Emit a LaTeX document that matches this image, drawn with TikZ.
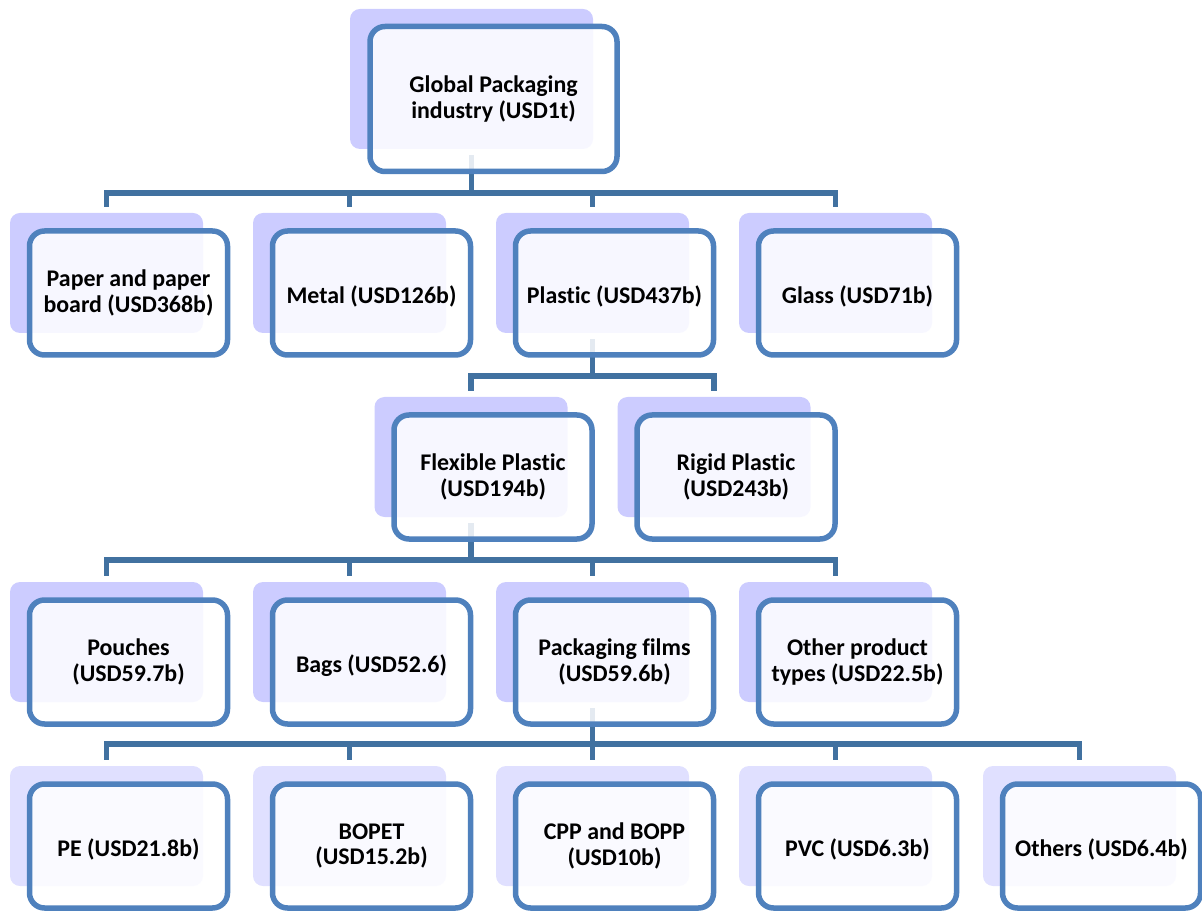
\documentclass[tikz,border=0pt]{standalone}
\usepackage{fontspec}
\setmainfont[Ligatures=NoCommon]{Carlito}
\usetikzlibrary{positioning}
\usetikzlibrary{calc}
\definecolor{lav}{RGB}{204,204,255}
\definecolor{lavlight}{RGB}{224,224,255}
\definecolor{boxblue}{RGB}{79,129,189}
\definecolor{linkblue}{RGB}{65,113,160}

\tikzset{
  back/.style={draw=none, fill=lav, rounded corners=0.2cm, inner sep=0pt,
    minimum width=193*0.02cm, minimum height=120*0.02cm},
  front/.style={draw=boxblue, line width=5.5*0.02cm, fill=white,
    fill opacity=0.86, text opacity=1, rounded corners=0.3cm, inner sep=0pt,
    minimum width=198*0.02cm, minimum height=124*0.02cm, align=center,
    font=\bfseries\fontsize{13.6}{14.4}\selectfont,
    execute at begin node={\rule{0pt}{14.5pt}}},
  link/.style={draw=linkblue, line width=5.5*0.02cm}
}

\begin{document}
\begin{tikzpicture}[x=0.02cm, y=-0.02cm]

%---------------------------------------
% Canvas (pixel grid)
%---------------------------------------
\useasboundingbox (0,0) rectangle (1202,911);

\def\dx{22}   % front box shift right
\def\dy{20}   % front box shift down

% Bus levels
\coordinate (busA) at (0,193);
\coordinate (busB) at (0,376);
\coordinate (busC) at (0,560);
\coordinate (busD) at (0,744);

%====================================================
% Shadow boxes
%====================================================
\node[back, minimum width=243*0.02cm, minimum height=140*0.02cm] (globalB) at (471.5,79) {};

\node[back] (paperB)   at (106.5,273) {};
\node[back] (metalB)   at (349.5,273) {};
\node[back] (plasticB) at (592.5,273) {};
\node[back] (glassB)   at (835.5,273) {};

\node[back] (flexB)  at (471,457) {};
\node[back] (rigidB) at (714,457) {};

\node[back] (pouchB) at (106.5,642) {};
\node[back] (bagB)   at (349.5,642) {};
\node[back] (filmB)  at (592.5,642) {};
\node[back] (otherB) at (835.5,642) {};

\node[back, fill=lavlight] (peB)     at (106.5,826) {};
\node[back, fill=lavlight] (bopetB)  at (349.5,826) {};
\node[back, fill=lavlight] (cppB)    at (592.5,826) {};
\node[back, fill=lavlight] (pvcB)    at (835.5,826) {};
\node[back, fill=lavlight] (othersB) at (1079.5,826) {};

%====================================================
% Connectors
%====================================================
% Level 1 -> 2
\draw[link] ($(globalB.south)+(0,6)$) -- (globalB.south |- busA);
\draw[link] ($(paperB.north)+(0,-6)$) -- (paperB.north |- busA)
  -- (glassB.north |- busA) -- ($(glassB.north)+(0,-6)$);
\foreach \n in {metalB, plasticB}
  \draw[link] (\n.north |- busA) -- ($(\n.north)+(0,-6)$);

% Plastic -> flexible / rigid
\draw[link] ($(plasticB.south)+(0,6)$) -- (plasticB.south |- busB);
\draw[link] ($(flexB.north)+(0,-6)$) -- (flexB.north |- busB)
  -- (rigidB.north |- busB) -- ($(rigidB.north)+(0,-6)$);

% Flexible -> product types
\draw[link] ($(flexB.south)+(0,6)$) -- (flexB.south |- busC);
\draw[link] ($(pouchB.north)+(0,-6)$) -- (pouchB.north |- busC)
  -- (otherB.north |- busC) -- ($(otherB.north)+(0,-6)$);
\foreach \n in {bagB, filmB}
  \draw[link] (\n.north |- busC) -- ($(\n.north)+(0,-6)$);

% Packaging films -> materials
\draw[link] ($(filmB.south)+(0,6)$) -- (filmB.south |- busD);
\draw[link] ($(peB.north)+(0,-6)$) -- (peB.north |- busD)
  -- (othersB.north |- busD) -- ($(othersB.north)+(0,-6)$);
\foreach \n in {bopetB, cppB, pvcB}
  \draw[link] (\n.north |- busD) -- ($(\n.north)+(0,-6)$);

%====================================================
% Front boxes with labels
%====================================================
\node[front, minimum width=247*0.02cm, minimum height=145*0.02cm] (global)
  at ($(globalB)+(\dx,\dy)$) {Global Packaging\\industry (USD1t)};

\node[front] (paper)   at ($(paperB)+(\dx,\dy)$)   {Paper and paper\\board (USD368b)};
\node[front] (metal)   at ($(metalB)+(\dx,\dy)$)   {Metal (USD126b)};
\node[front] (plastic) at ($(plasticB)+(\dx,\dy)$) {Plastic (USD437b)};
\node[front] (glass)   at ($(glassB)+(\dx,\dy)$)   {Glass (USD71b)};

\node[front] (flex)  at ($(flexB)+(\dx,\dy)$)  {Flexible Plastic\\(USD194b)};
\node[front] (rigid) at ($(rigidB)+(\dx,\dy)$) {Rigid Plastic\\(USD243b)};

\node[front] (pouch) at ($(pouchB)+(\dx,\dy)$) {Pouches\\(USD59.7b)};
\node[front] (bag)   at ($(bagB)+(\dx,\dy)$)   {Bags (USD52.6)};
\node[front] (film)  at ($(filmB)+(\dx,\dy)$)  {Packaging films\\(USD59.6b)};
\node[front] (other) at ($(otherB)+(\dx,\dy)$) {Other product\\types (USD22.5b)};

\node[front] (pe)     at ($(peB)+(\dx,\dy)$)     {PE (USD21.8b)};
\node[front] (bopet)  at ($(bopetB)+(\dx,\dy)$)  {BOPET\\(USD15.2b)};
\node[front] (cpp)    at ($(cppB)+(\dx,\dy)$)    {CPP and BOPP\\(USD10b)};
\node[front] (pvc)    at ($(pvcB)+(\dx,\dy)$)    {PVC (USD6.3b)};
\node[front] (others) at ($(othersB)+(\dx,\dy)$) {Others (USD6.4b)};

\end{tikzpicture}
\end{document}
